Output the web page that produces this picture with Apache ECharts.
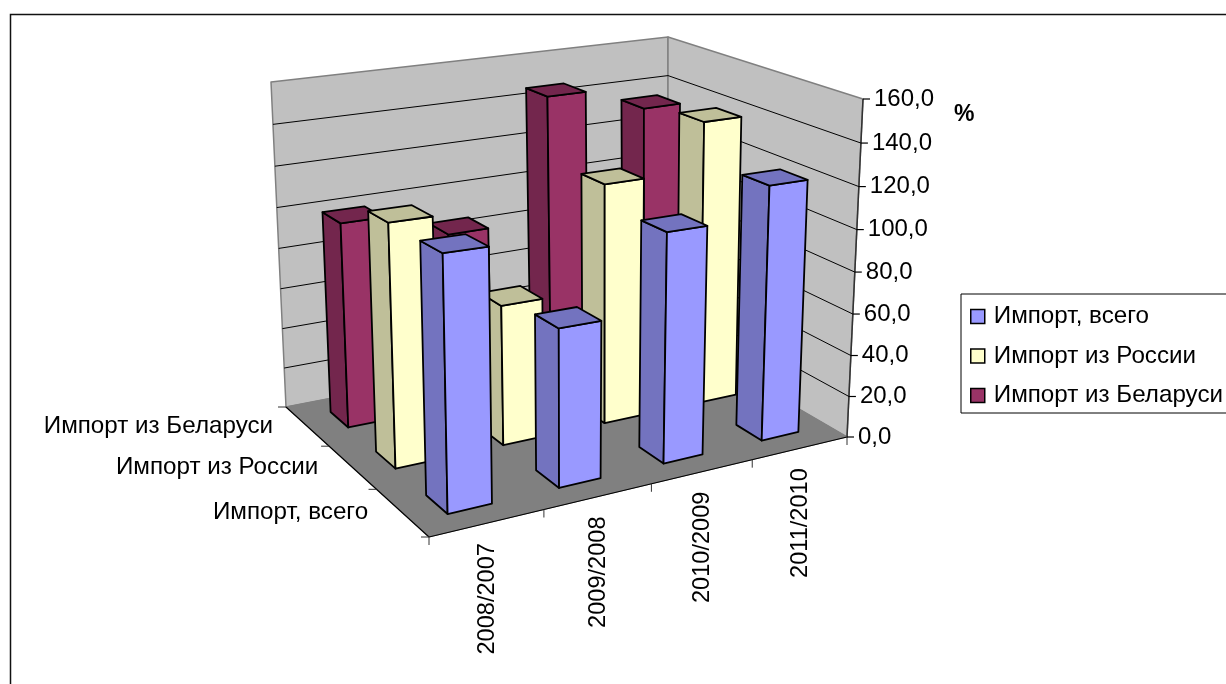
<!DOCTYPE html>
<html>
<head>
<meta charset="utf-8">
<style>html,body{margin:0;padding:0;background:#fff}#main{width:1226px;height:684px}</style>
<script src="https://cdn.jsdelivr.net/npm/echarts@6/dist/echarts.min.js"></script>
</head>
<body>
<div id="main"></div>
<script>
// данные
var categories = ['2008/2007', '2009/2008', '2010/2009', '2011/2010'];
var seriesNames = ['Импорт, всего', 'Импорт из России', 'Импорт из Беларуси'];
var importTotal = [113, 72.5, 107.5, 121.5];
var importRussia = [113, 67, 116.5, 139.5];
var importBelarus = [99.5, 86.5, 147, 135];
var valueTicks = [0, 20, 40, 60, 80, 100, 120, 140, 160];

var font = '"Liberation Sans", Arial, sans-serif';
var fontSize = 24;
var nameFontSize = 24.2;

// углы пола и верха коробки: FL, FR, back, BL
var floorQuad = [[429, 537], [847, 437], [668, 333], [286, 407]];
var topQuadX = [[421, 161], [863, 99], [668, 37], [271, 82]];
var topQuadY = [[421, 151], [863, 99], [668, 37], [271, 82]];

function makeHomography(q) {
  var dx1 = q[1][0] - q[2][0], dx2 = q[3][0] - q[2][0], sx = q[0][0] - q[1][0] + q[2][0] - q[3][0];
  var dy1 = q[1][1] - q[2][1], dy2 = q[3][1] - q[2][1], sy = q[0][1] - q[1][1] + q[2][1] - q[3][1];
  var den = dx1 * dy2 - dx2 * dy1;
  var g = (sx * dy2 - dx2 * sy) / den;
  var h = (dx1 * sy - sx * dy1) / den;
  var a = q[1][0] - q[0][0] + g * q[1][0], b = q[3][0] - q[0][0] + h * q[3][0], c = q[0][0];
  var d = q[1][1] - q[0][1] + g * q[1][1], e = q[3][1] - q[0][1] + h * q[3][1], f = q[0][1];
  return function (u, v) {
    var w = g * u + h * v + 1;
    return [(a * u + b * v + c) / w, (d * u + e * v + f) / w];
  };
}
var floorH = makeHomography(floorQuad);
var topHX = makeHomography(topQuadX);
var topHY = makeHomography(topQuadY);

// u - вдоль категорий, d - в глубину, t - доля высоты
function project(u, d, t) {
  var k = 0.047;
  var s = t * (1 - k) / (1 - k * t);
  var p0 = floorH(u, d), px = topHX(u, d)[0], py = topHY(u, d)[1];
  return [p0[0] + (px - p0[0]) * s, p0[1] + (py - p0[1]) * s];
}

// доля высоты берется из шкалы оси
function heightOf(api, v) {
  var y0 = api.coord([0, 0])[1];
  var y1 = api.coord([0, 160])[1];
  return (y0 - api.coord([0, v])[1]) / (y0 - y1);
}

function poly(points, fill, stroke, lw) {
  return { type: 'polygon', shape: { points: points }, style: { fill: fill, stroke: stroke, lineWidth: lw, lineJoin: 'round' } };
}
function line(a, b, color, lw) {
  return { type: 'line', shape: { x1: a[0], y1: a[1], x2: b[0], y2: b[1] }, style: { stroke: color, lineWidth: lw, fill: null } };
}
function label(text, x, y, rotation, align, size) {
  return {
    type: 'text', x: x, y: y, rotation: rotation || 0,
    style: { text: text, fill: '#000', font: (size || fontSize) + 'px ' + font, align: align, verticalAlign: 'middle' }
  };
}

function barSeries(name, values, row, front, side) {
  return {
    name: name,
    type: 'custom',
    itemStyle: { color: front },
    data: values.map(function (v, i) { return [i, v]; }),
    renderItem: function (params, api) {
      var i = api.value(0);
      var t = heightOf(api, api.value(1));
      var u0 = (i + 0.3) / categories.length, u1 = (i + 0.69) / categories.length;
      var d0 = (row + 0.3) / 3, d1 = (row + 0.7) / 3;
      var stroke = '#000', lw = 1.8;
      return {
        type: 'group',
        children: [
          poly([project(u0, d1, 0), project(u0, d0, 0), project(u0, d0, t), project(u0, d1, t)], side, stroke, lw),
          poly([project(u0, d0, 0), project(u1, d0, 0), project(u1, d0, t), project(u0, d0, t)], front, stroke, lw),
          poly([project(u0, d0, t), project(u1, d0, t), project(u1, d1, t), project(u0, d1, t)], side, stroke, lw)
        ]
      };
    }
  };
}

var wallSeries = {
  type: 'custom',
  silent: true,
  data: [[0, 0]],
  renderItem: function () {
    var fl = project(0, 0, 0), fr = project(1, 0, 0), bk = project(1, 1, 0), bl = project(0, 1, 0);
    var frT = project(1, 0, 1), bkT = project(1, 1, 1), blT = project(0, 1, 1);
    var children = [
      poly([bl, bk, bkT, blT], '#C0C0C0', '#808080', 1.5),
      poly([bk, fr, frT, bkT], '#C0C0C0', '#808080', 1.5),
      poly([fl, fr, bk, bl], '#808080', '#808080', 1),
      line(fl, fr, '#000', 1.2),
      line(fl, bl, '#000', 1.2),
      line(fr, frT, '#333', 1.5)
    ];
    // насечки на ребрах пола
    categories.concat(['']).forEach(function (c, i) {
      var p = project(i / categories.length, 0, 0);
      children.push(line(p, [p[0], p[1] + 8], '#333', 1));
    });
    for (var r = 0; r <= seriesNames.length; r++) {
      var p = project(0, r / seriesNames.length, 0);
      children.push(line(p, [p[0] - 8, p[1]], '#333', 1));
    }
    return { type: 'group', children: children };
  }
};

var tickSeries = {
  type: 'custom',
  silent: true,
  data: valueTicks.map(function (v) { return [0, v]; }),
  renderItem: function (params, api) {
    var v = api.value(1);
    var t = heightOf(api, v);
    var a = project(0, 1, t), b = project(1, 1, t), c = project(1, 0, t);
    var children = [line([c[0], c[1]], [c[0] + 7, c[1]], '#000', 1.2)];
    if (v > 0 && v < 160) {
      children.push(line(a, b, '#000', 1), line(b, c, '#000', 1));
    }
    children.push(label(v.toFixed(1).replace('.', ','), c[0] + 11, c[1], 0, 'left'));
    return { type: 'group', children: children };
  }
};

var labelSeries = {
  type: 'custom',
  silent: true,
  data: [[0, 0]],
  z: 5,
  renderItem: function () {
    var children = [];
    categories.forEach(function (c, i) {
      var p = project((i + 0.5) / categories.length, 0, 0);
      children.push(label(c, p[0], p[1] + 20, Math.PI / 2, 'right', 23.6));
    });
    seriesNames.forEach(function (n, r) {
      var p = project(0, (r + 0.5) / seriesNames.length, 0);
      children.push(label(n, p[0] - 34, p[1], 0, 'right', nameFontSize));
    });
    return { type: 'group', children: children };
  }
};

var myChart = echarts.init(document.getElementById('main'));
var option = {
  animation: false,
  backgroundColor: '#fff',
  title: {
    text: '%', left: 954, top: 103, padding: 0,
    textStyle: { fontFamily: font, fontSize: 23, fontWeight: 'bold', color: '#000' }
  },
  graphic: [{
    type: 'rect', z: -10,
    shape: { x: 10.5, y: 14.5, width: 1300, height: 800 },
    style: { fill: null, stroke: '#111', lineWidth: 1.5 }
  }],
  grid: { left: 429, right: 379, top: 99, bottom: 247 },
  xAxis: { type: 'category', data: categories, show: false },
  yAxis: { type: 'value', min: 0, max: 160, interval: 20, show: false },
  legend: {
    data: seriesNames,
    orient: 'vertical',
    left: 961,
    top: 294,
    padding: [10.5, 30, 5.5, 9],
    itemWidth: 14,
    itemHeight: 14,
    itemGap: 15.5,
    icon: 'rect',
    selectedMode: false,
    borderColor: '#000',
    borderWidth: 1,
    backgroundColor: '#fff',
    itemStyle: { borderColor: '#000', borderWidth: 1.5 },
    textStyle: { fontFamily: font, fontSize: nameFontSize, color: '#000', padding: [0, 0, 0, 4] }
  },
  series: [
    wallSeries,
    tickSeries,
    barSeries(seriesNames[2], importBelarus, 2, '#993366', '#73264D'),
    barSeries(seriesNames[1], importRussia, 1, '#FFFFCC', '#BFBF99'),
    barSeries(seriesNames[0], importTotal, 0, '#9999FF', '#7373BF'),
    labelSeries
  ]
};
myChart.setOption(option);
window.addEventListener('resize', myChart.resize);
</script>
</body>
</html>
